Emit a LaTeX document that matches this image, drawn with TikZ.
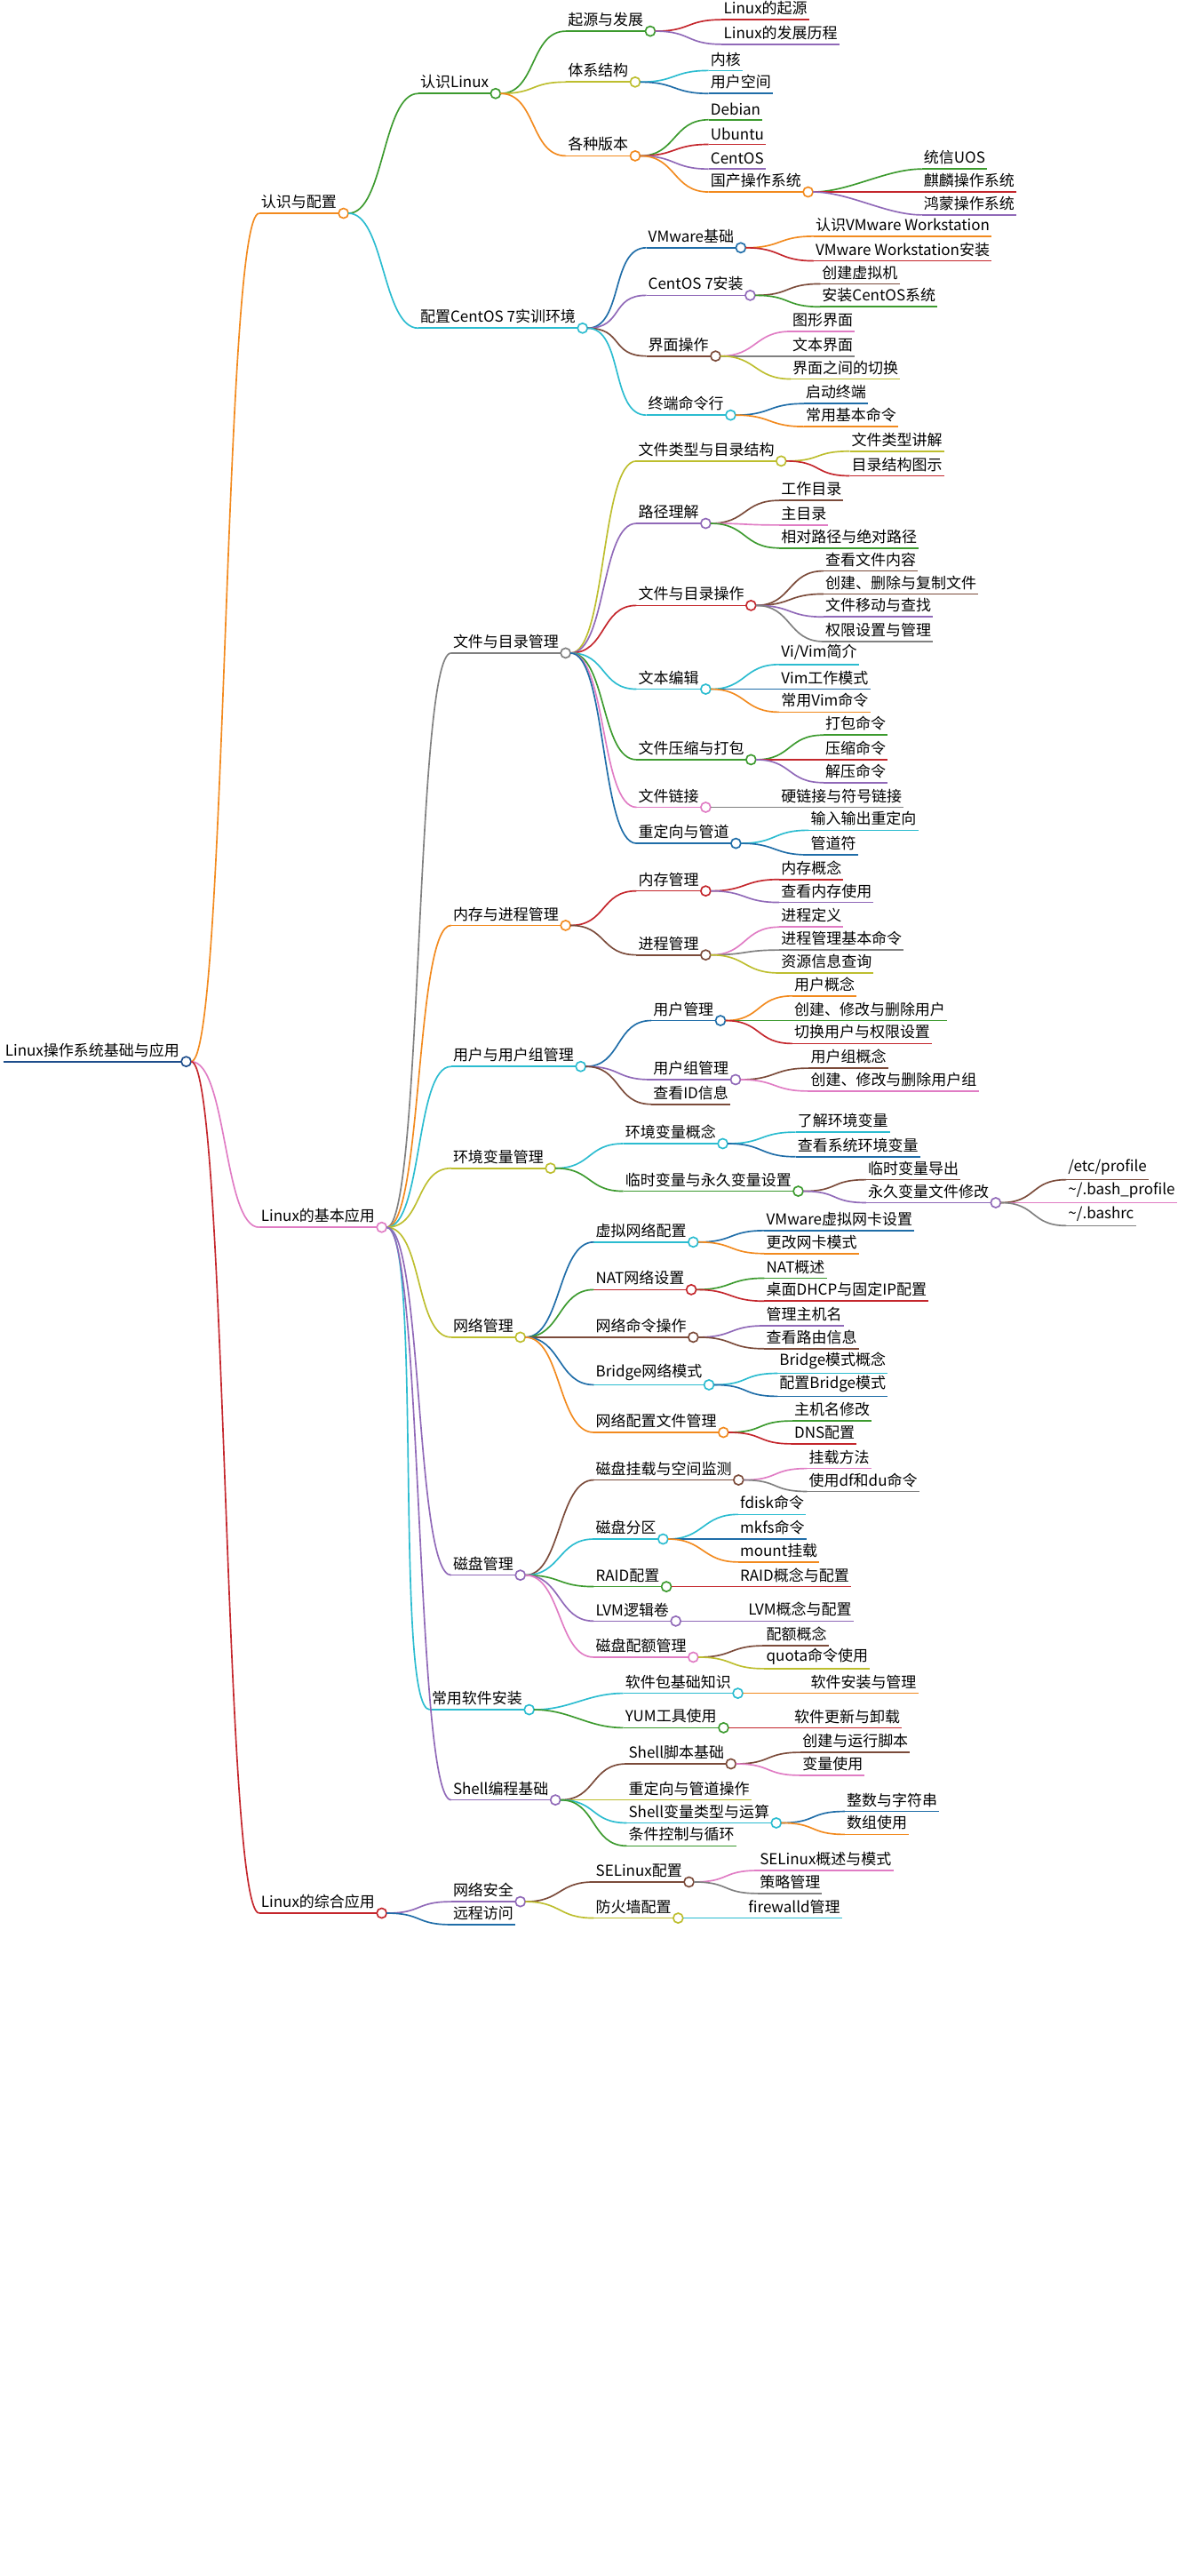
\documentclass[tikz,border=0pt]{standalone}
\usepackage{fontspec}
\setmainfont{Noto Sans CJK SC}
\definecolor{mgreen}{HTML}{3C9A2E}
\definecolor{morange}{HTML}{F28A1E}
\definecolor{mcyan}{HTML}{2BBCD0}
\definecolor{mblue}{HTML}{1F6DA8}
\definecolor{mred}{HTML}{C4262C}
\definecolor{mpurple}{HTML}{9069B8}
\definecolor{mpink}{HTML}{E07CC4}
\definecolor{mbrown}{HTML}{7B4B3A}
\definecolor{mgray}{HTML}{808080}
\definecolor{molive}{HTML}{BDBE2E}
\definecolor{mroot}{HTML}{1E4E8C}
\tikzset{
  txt/.style={inner xsep=1pt, inner ysep=2.5pt, anchor=south west, font=\fontsize{9.2}{11}\selectfont},
  uline/.style={line width=0.9pt},
  link/.style={line width=0.9pt}
}
% leaf: name, x, y, colour, text
\newcommand\mleaf[5]{%
  \node[txt] (#1) at (#2,-#3) {#5};
  \draw[uline,#4] (#1.south west) -- (#1.south east);}
% branch: same, plus the small circle at the end
\newcommand\mbranch[5]{%
  \mleaf{#1}{#2}{#3}{#4}{#5}
  \draw[uline,#4,fill=white] ([xshift=3pt]#1.south east) circle (3pt);
  \coordinate (#1-o) at ([xshift=6pt]#1.south east);}
% connector from parent circle to child
\newcommand\mlink[3]{%
  \draw[link,#3] (#1-o) .. controls +(22,0) and +(-22,0) .. (#2.south west);}
\begin{document}
\begin{tikzpicture}[x=1pt,y=1pt]
\useasboundingbox (0,0) rectangle (718,-1570);

% root and first level
\mbranch{root}{2}{647}{mroot}{Linux操作系统基础与应用}
\mbranch{cfg}{158}{130}{morange}{认识与配置}
\mbranch{basic}{158}{748}{mpink}{Linux的基本应用}
\mbranch{comp}{158}{1166}{mred}{Linux的综合应用}
\mlink{root}{cfg}{morange}
\mlink{root}{basic}{mpink}
\mlink{root}{comp}{mred}

% 认识与配置
\mbranch{know}{255}{57}{mgreen}{认识Linux}
\mbranch{env}{255}{200}{mcyan}{配置CentOS 7实训环境}
\mlink{cfg}{know}{mgreen}
\mlink{cfg}{env}{mcyan}

\mbranch{orig}{345}{19}{mgreen}{起源与发展}
\mbranch{arch}{345}{50}{molive}{体系结构}
\mbranch{dist}{345}{95}{morange}{各种版本}
\mlink{know}{orig}{mgreen}
\mlink{know}{arch}{molive}
\mlink{know}{dist}{morange}
\mleaf{o1}{440}{12}{mred}{Linux的起源}
\mleaf{o2}{440}{27}{mpurple}{Linux的发展历程}
\mlink{orig}{o1}{mred}
\mlink{orig}{o2}{mpurple}
\mleaf{a1}{432}{43}{mcyan}{内核}
\mleaf{a2}{432}{57}{mblue}{用户空间}
\mlink{arch}{a1}{mcyan}
\mlink{arch}{a2}{mblue}
\mleaf{d1}{432}{73}{mgreen}{Debian}
\mleaf{d2}{432}{88}{mred}{Ubuntu}
\mleaf{d3}{432}{103}{mpurple}{CentOS}
\mbranch{d4}{432}{117}{morange}{国产操作系统}
\mlink{dist}{d1}{mgreen}
\mlink{dist}{d2}{mred}
\mlink{dist}{d3}{mpurple}
\mlink{dist}{d4}{morange}
\mleaf{c1}{562}{103}{mgreen}{统信UOS}
\mleaf{c2}{562}{117}{mred}{麒麟操作系统}
\mleaf{c3}{562}{131}{mpurple}{鸿蒙操作系统}
\mlink{d4}{c1}{mgreen}
\mlink{d4}{c2}{mred}
\mlink{d4}{c3}{mpurple}

\mbranch{vm}{394}{151}{mblue}{VMware基础}
\mbranch{inst}{394}{180}{mpurple}{CentOS 7安装}
\mbranch{ui}{394}{217}{mbrown}{界面操作}
\mbranch{term}{394}{253}{mcyan}{终端命令行}
\mlink{env}{vm}{mblue}
\mlink{env}{inst}{mpurple}
\mlink{env}{ui}{mbrown}
\mlink{env}{term}{mcyan}
\mleaf{v1}{496}{144}{morange}{认识VMware Workstation}
\mleaf{v2}{496}{159}{mred}{VMware Workstation安装}
\mlink{vm}{v1}{morange}
\mlink{vm}{v2}{mred}
\mleaf{i1}{500}{173}{mbrown}{创建虚拟机}
\mleaf{i2}{500}{187}{mgreen}{安装CentOS系统}
\mlink{inst}{i1}{mbrown}
\mlink{inst}{i2}{mgreen}
\mleaf{u1}{482}{202}{mpink}{图形界面}
\mleaf{u2}{482}{217}{mgray}{文本界面}
\mleaf{u3}{482}{231}{molive}{界面之间的切换}
\mlink{ui}{u1}{mpink}
\mlink{ui}{u2}{mgray}
\mlink{ui}{u3}{molive}
\mleaf{t1}{490}{246}{mblue}{启动终端}
\mleaf{t2}{490}{260}{morange}{常用基本命令}
\mlink{term}{t1}{mblue}
\mlink{term}{t2}{morange}

% Linux的基本应用
\mbranch{fs}{275}{398}{mgray}{文件与目录管理}
\mbranch{mem}{275}{564}{morange}{内存与进程管理}
\mbranch{usr}{275}{650}{mcyan}{用户与用户组管理}
\mbranch{var}{275}{712}{molive}{环境变量管理}
\mbranch{net}{275}{815}{molive}{网络管理}
\mbranch{disk}{275}{960}{mpurple}{磁盘管理}
\mbranch{soft}{262}{1042}{mcyan}{常用软件安装}
\mbranch{sh}{275}{1097}{mpurple}{Shell编程基础}
\mlink{basic}{fs}{mgray}
\mlink{basic}{mem}{morange}
\mlink{basic}{usr}{mcyan}
\mlink{basic}{var}{molive}
\mlink{basic}{net}{molive}
\mlink{basic}{disk}{mpurple}
\mlink{basic}{soft}{mcyan}
\mlink{basic}{sh}{mpurple}

% 文件与目录管理
\mbranch{f1}{388}{281}{molive}{文件类型与目录结构}
\mbranch{f2}{388}{319}{mpurple}{路径理解}
\mbranch{f3}{388}{369}{mred}{文件与目录操作}
\mbranch{f4}{388}{420}{mcyan}{文本编辑}
\mbranch{f5}{388}{463}{mgreen}{文件压缩与打包}
\mbranch{f6}{388}{492}{mpink}{文件链接}
\mbranch{f7}{388}{514}{mblue}{重定向与管道}
\mlink{fs}{f1}{molive}
\mlink{fs}{f2}{mpurple}
\mlink{fs}{f3}{mred}
\mlink{fs}{f4}{mcyan}
\mlink{fs}{f5}{mgreen}
\mlink{fs}{f6}{mpink}
\mlink{fs}{f7}{mblue}
\mleaf{f1a}{518}{275}{molive}{文件类型讲解}
\mleaf{f1b}{518}{290}{mred}{目录结构图示}
\mlink{f1}{f1a}{molive}
\mlink{f1}{f1b}{mred}
\mleaf{f2a}{475}{305}{mbrown}{工作目录}
\mleaf{f2b}{475}{320}{mpink}{主目录}
\mleaf{f2c}{475}{334}{mgreen}{相对路径与绝对路径}
\mlink{f2}{f2a}{mbrown}
\mlink{f2}{f2b}{mpink}
\mlink{f2}{f2c}{mgreen}
\mleaf{f3a}{502}{348}{mbrown}{查看文件内容}
\mleaf{f3b}{502}{362}{mbrown}{创建、删除与复制文件}
\mleaf{f3c}{502}{376}{mpurple}{文件移动与查找}
\mleaf{f3d}{502}{391}{mgray}{权限设置与管理}
\mlink{f3}{f3a}{mbrown}
\mlink{f3}{f3b}{mbrown}
\mlink{f3}{f3c}{mpurple}
\mlink{f3}{f3d}{mgray}
\mleaf{f4a}{475}{405}{mcyan}{Vi/Vim简介}
\mleaf{f4b}{475}{420}{mblue}{Vim工作模式}
\mleaf{f4c}{475}{434}{morange}{常用Vim命令}
\mlink{f4}{f4a}{mcyan}
\mlink{f4}{f4b}{mblue}
\mlink{f4}{f4c}{morange}
\mleaf{f5a}{502}{448}{mgreen}{打包命令}
\mleaf{f5b}{502}{463}{mred}{压缩命令}
\mleaf{f5c}{502}{477}{mpurple}{解压命令}
\mlink{f5}{f5a}{mgreen}
\mlink{f5}{f5b}{mred}
\mlink{f5}{f5c}{mpurple}
\mleaf{f6a}{475}{492}{mgray}{硬链接与符号链接}
\mlink{f6}{f6a}{mgray}
\mleaf{f7a}{493}{506}{mcyan}{输入输出重定向}
\mleaf{f7b}{493}{521}{mblue}{管道符}
\mlink{f7}{f7a}{mcyan}
\mlink{f7}{f7b}{mblue}

% 内存与进程管理
\mbranch{m1}{388}{543}{mred}{内存管理}
\mbranch{m2}{388}{582}{mbrown}{进程管理}
\mlink{mem}{m1}{mred}
\mlink{mem}{m2}{mbrown}
\mleaf{m1a}{475}{536}{mred}{内存概念}
\mleaf{m1b}{475}{550}{mpurple}{查看内存使用}
\mlink{m1}{m1a}{mred}
\mlink{m1}{m1b}{mpurple}
\mleaf{m2a}{475}{565}{mpink}{进程定义}
\mleaf{m2b}{475}{579}{mgray}{进程管理基本命令}
\mleaf{m2c}{475}{593}{molive}{资源信息查询}
\mlink{m2}{m2a}{mpink}
\mlink{m2}{m2b}{mgray}
\mlink{m2}{m2c}{molive}

% 用户与用户组管理
\mbranch{u1m}{397}{622}{mblue}{用户管理}
\mbranch{u2m}{397}{658}{mpurple}{用户组管理}
\mleaf{u3m}{397}{673}{mbrown}{查看ID信息}
\mlink{usr}{u1m}{mblue}
\mlink{usr}{u2m}{mpurple}
\mlink{usr}{u3m}{mbrown}
\mleaf{ua}{483}{607}{morange}{用户概念}
\mleaf{ub}{483}{622}{mgreen}{创建、修改与删除用户}
\mleaf{uc}{483}{636}{mred}{切换用户与权限设置}
\mlink{u1m}{ua}{morange}
\mlink{u1m}{ub}{mgreen}
\mlink{u1m}{uc}{mred}
\mleaf{ud}{493}{651}{mbrown}{用户组概念}
\mleaf{ue}{493}{665}{mpink}{创建、修改与删除用户组}
\mlink{u2m}{ud}{mbrown}
\mlink{u2m}{ue}{mpink}

% 环境变量管理
\mbranch{e1}{380}{697}{mcyan}{环境变量概念}
\mbranch{e2}{380}{726}{mgreen}{临时变量与永久变量设置}
\mlink{var}{e1}{mcyan}
\mlink{var}{e2}{mgreen}
\mleaf{e1a}{485}{690}{mcyan}{了解环境变量}
\mleaf{e1b}{485}{705}{mblue}{查看系统环境变量}
\mlink{e1}{e1a}{mcyan}
\mlink{e1}{e1b}{mblue}
\mleaf{e2a}{528}{719}{mbrown}{临时变量导出}
\mbranch{e2b}{528}{733}{mpurple}{永久变量文件修改}
\mlink{e2}{e2a}{mbrown}
\mlink{e2}{e2b}{mpurple}
\mleaf{p1}{650}{719}{mbrown}{/etc/profile}
\mleaf{p2}{650}{733}{mpink}{\textasciitilde/.bash\_profile}
\mleaf{p3}{650}{747}{mgray}{\textasciitilde/.bashrc}
\mlink{e2b}{p1}{mbrown}
\mlink{e2b}{p2}{mpink}
\mlink{e2b}{p3}{mgray}

% 网络管理
\mbranch{n1}{362}{757}{mcyan}{虚拟网络配置}
\mbranch{n2}{362}{786}{mred}{NAT网络设置}
\mbranch{n3}{362}{815}{mbrown}{网络命令操作}
\mbranch{n4}{362}{844}{mcyan}{Bridge网络模式}
\mbranch{n5}{362}{873}{morange}{网络配置文件管理}
\mlink{net}{n1}{mblue}
\mlink{net}{n2}{mgreen}
\mlink{net}{n3}{mbrown}
\mlink{net}{n4}{mblue}
\mlink{net}{n5}{morange}
\mleaf{n1a}{466}{750}{mblue}{VMware虚拟网卡设置}
\mleaf{n1b}{466}{764}{morange}{更改网卡模式}
\mlink{n1}{n1a}{mblue}
\mlink{n1}{n1b}{morange}
\mleaf{n2a}{466}{779}{mgreen}{NAT概述}
\mleaf{n2b}{466}{793}{mred}{桌面DHCP与固定IP配置}
\mlink{n2}{n2a}{mgreen}
\mlink{n2}{n2b}{mred}
\mleaf{n3a}{466}{808}{mpurple}{管理主机名}
\mleaf{n3b}{466}{822}{mbrown}{查看路由信息}
\mlink{n3}{n3a}{mpurple}
\mlink{n3}{n3b}{mbrown}
\mleaf{n4a}{474}{837}{mcyan}{Bridge模式概念}
\mleaf{n4b}{474}{851}{mblue}{配置Bridge模式}
\mlink{n4}{n4a}{mcyan}
\mlink{n4}{n4b}{mblue}
\mleaf{n5a}{483}{866}{mgreen}{主机名修改}
\mleaf{n5b}{483}{880}{mred}{DNS配置}
\mlink{n5}{n5a}{mgreen}
\mlink{n5}{n5b}{mred}

% 磁盘管理
\mbranch{k1}{362}{902}{mbrown}{磁盘挂载与空间监测}
\mbranch{k2}{362}{938}{mcyan}{磁盘分区}
\mbranch{k3}{362}{967}{mgreen}{RAID配置}
\mbranch{k4}{362}{988}{mpurple}{LVM逻辑卷}
\mbranch{k5}{362}{1010}{mpink}{磁盘配额管理}
\mlink{disk}{k1}{mbrown}
\mlink{disk}{k2}{mcyan}
\mlink{disk}{k3}{mgreen}
\mlink{disk}{k4}{mpurple}
\mlink{disk}{k5}{mpink}
\mleaf{k1a}{492}{895}{mpink}{挂载方法}
\mleaf{k1b}{492}{909}{mgray}{使用df和du命令}
\mlink{k1}{k1a}{mpink}
\mlink{k1}{k1b}{mgray}
\mleaf{k2a}{450}{923}{mcyan}{fdisk命令}
\mleaf{k2b}{450}{938}{mblue}{mkfs命令}
\mleaf{k2c}{450}{952}{morange}{mount挂载}
\mlink{k2}{k2a}{mcyan}
\mlink{k2}{k2b}{mblue}
\mlink{k2}{k2c}{morange}
\mleaf{k3a}{450}{967}{mred}{RAID概念与配置}
\mlink{k3}{k3a}{mred}
\mleaf{k4a}{455}{988}{mpurple}{LVM概念与配置}
\mlink{k4}{k4a}{mpurple}
\mleaf{k5a}{466}{1003}{mbrown}{配额概念}
\mleaf{k5b}{466}{1017}{molive}{quota命令使用}
\mlink{k5}{k5a}{mbrown}
\mlink{k5}{k5b}{molive}

% 常用软件安装
\mbranch{s1}{380}{1032}{mcyan}{软件包基础知识}
\mbranch{s2}{380}{1053}{mgreen}{YUM工具使用}
\mlink{soft}{s1}{mcyan}
\mlink{soft}{s2}{mgreen}
\mleaf{s1a}{493}{1032}{morange}{软件安装与管理}
\mlink{s1}{s1a}{morange}
\mleaf{s2a}{483}{1053}{mred}{软件更新与卸载}
\mlink{s2}{s2a}{mred}

% Shell编程基础
\mbranch{h1}{382}{1075}{mbrown}{Shell脚本基础}
\mleaf{h2}{382}{1097}{molive}{重定向与管道操作}
\mbranch{h3}{382}{1111}{mcyan}{Shell变量类型与运算}
\mleaf{h4}{382}{1125}{mgreen}{条件控制与循环}
\mlink{sh}{h1}{mbrown}
\mlink{sh}{h2}{molive}
\mlink{sh}{h3}{mcyan}
\mlink{sh}{h4}{mgreen}
\mleaf{h1a}{488}{1068}{mbrown}{创建与运行脚本}
\mleaf{h1b}{488}{1082}{mpink}{变量使用}
\mlink{h1}{h1a}{mbrown}
\mlink{h1}{h1b}{mpink}
\mleaf{h3a}{515}{1104}{mblue}{整数与字符串}
\mleaf{h3b}{515}{1118}{morange}{数组使用}
\mlink{h3}{h3a}{mblue}
\mlink{h3}{h3b}{morange}

% Linux的综合应用
\mbranch{sec}{275}{1159}{mpurple}{网络安全}
\mleaf{rem}{275}{1173}{mblue}{远程访问}
\mlink{comp}{sec}{mpurple}
\mlink{comp}{rem}{mblue}
\mbranch{x1}{362}{1147}{mbrown}{SELinux配置}
\mbranch{x2}{362}{1169}{molive}{防火墙配置}
\mlink{sec}{x1}{mbrown}
\mlink{sec}{x2}{molive}
\mleaf{x1a}{462}{1140}{mpink}{SELinux概述与模式}
\mleaf{x1b}{462}{1154}{mgray}{策略管理}
\mlink{x1}{x1a}{mpink}
\mlink{x1}{x1b}{mgray}
\mleaf{x2a}{455}{1169}{mcyan}{firewalld管理}
\mlink{x2}{x2a}{mcyan}
\end{tikzpicture}
\end{document}
